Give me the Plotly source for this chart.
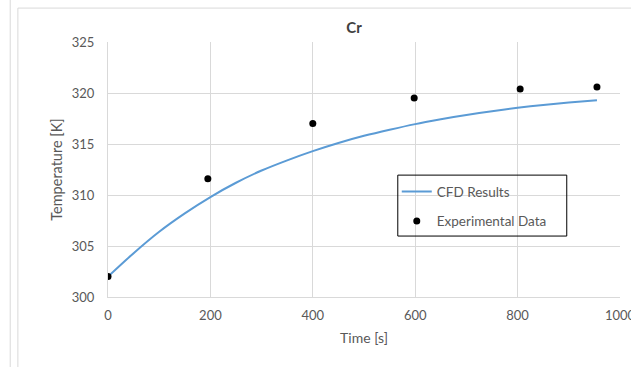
import plotly.graph_objects as go

# CFD simulation result (time in s, temperature in K)
cfd_time = [0, 50, 100, 150, 200, 250, 300, 350, 400, 450, 500, 550,
            600, 650, 700, 750, 800, 850, 900, 955]
cfd_temp = [302.0, 304.3, 306.4, 308.2, 309.8, 311.2, 312.4, 313.4, 314.3,
            315.1, 315.8, 316.4, 316.95, 317.42, 317.85, 318.22, 318.55, 318.83,
            319.07, 319.3]

# Measured points
exp_time = [0, 195, 400, 598, 805, 955]
exp_temp = [302.0, 311.6, 317.0, 319.5, 320.4, 320.6]

x_ticks = [0, 200, 400, 600, 800, 1000]
y_ticks = [300, 305, 310, 315, 320, 325]

GRID = "#d9d9d9"
TEXT = "#595959"
FONT = "Lato, 'Open Sans', sans-serif"

fig = go.Figure()
fig.add_trace(go.Scatter(
    x=cfd_time, y=cfd_temp, mode="lines", name="CFD Results",
    line=dict(color="#5b9bd5", width=2, shape="spline", smoothing=0.6),
    legendgroup="a"))
fig.add_trace(go.Scatter(
    x=exp_time, y=exp_temp, mode="markers", name="Experimental Data",
    marker=dict(color="black", size=7), legendgroup="b"))

# page separator and chart-area frame
fig.add_shape(type="line", xref="paper", yref="paper",
              x0=-0.191, x1=-0.191, y0=-0.3, y1=1.2,
              line=dict(color=GRID, width=1))
fig.add_shape(type="rect", xref="paper", yref="paper",
              x0=-0.176, x1=1.2, y0=-0.4, y1=1.133,
              line=dict(color=GRID, width=1))
# legend box
fig.add_shape(type="rect", xref="paper", yref="paper",
              x0=0.566, x1=0.896, y0=0.239, y1=0.478,
              line=dict(color="black", width=1))

fig.update_layout(
    width=631, height=367,
    margin=dict(l=108, r=11, t=42, b=70, autoexpand=False),
    paper_bgcolor="white", plot_bgcolor="white",
    font=dict(family=FONT, size=13, color=TEXT),
    title=dict(text="<b>Cr</b>", x=354 / 631,
               xanchor="center", y=1 - 28 / 367, yanchor="middle",
               font=dict(size=15, color="#404040", family=FONT)),
    xaxis=dict(range=[0, 1000], tickvals=x_ticks, showgrid=True,
               gridcolor=GRID, gridwidth=1, zeroline=False,
               showline=True, linecolor=GRID, ticks="",
               automargin=False,
               ticklabelstandoff=6, ticklabeloverflow="allow",
               tickfont=dict(size=13, color=TEXT),
               title=dict(text="Time [s]", standoff=11,
                          font=dict(size=14, color=TEXT))),
    yaxis=dict(range=[300, 325], tickvals=y_ticks, showgrid=True,
               gridcolor=GRID, gridwidth=1, zeroline=False,
               showline=True, linecolor=GRID, ticks="",
               automargin=False,
               ticklabelstandoff=10,
               tickfont=dict(size=13, color=TEXT),
               title=dict(text="Temperature [K]", standoff=5,
                          font=dict(size=14.5, color=TEXT))),
    legend=dict(x=0.564, y=0.474, xanchor="left", yanchor="top",
                bgcolor="rgba(0,0,0,0)", borderwidth=0,
                traceorder="grouped", tracegroupgap=9,
                font=dict(size=13.5, color=TEXT)),
    showlegend=True,
)

fig.write_html("out.html")
